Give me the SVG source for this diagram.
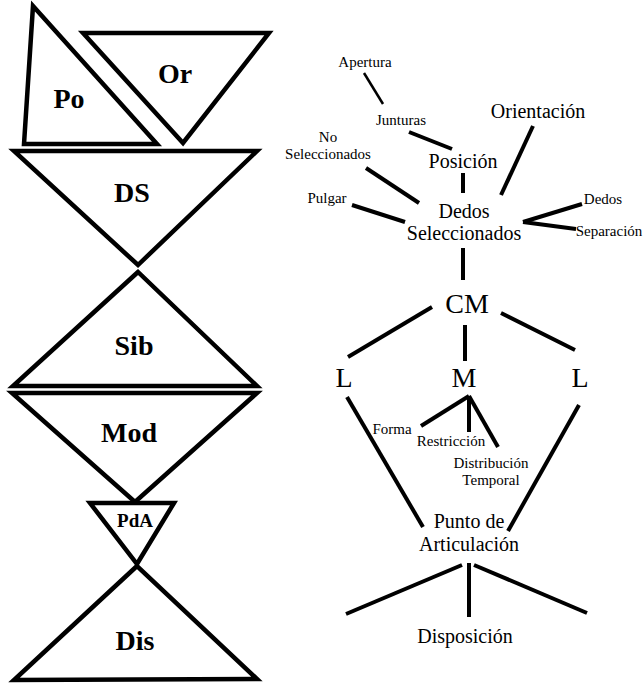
<svg xmlns="http://www.w3.org/2000/svg" width="644" height="687" viewBox="0 0 644 687" font-family="Liberation Serif, Times New Roman, Times, DejaVu Serif, Noto Serif, serif">
<style>
.tri{fill:none;stroke:#000;stroke-width:4.5;stroke-linejoin:miter;stroke-miterlimit:10}
text{text-anchor:middle;fill:#000}
.tl{font-weight:bold;font-size:28px}
.big{font-size:20px}
.huge{font-size:28px}
.sm{font-size:15px}
.ln{stroke:#000;stroke-width:4;stroke-linecap:butt;fill:none}
.thin{stroke:#000;stroke-width:2.5;fill:none}
</style>
<rect width="644" height="687" fill="#fff"/>
<g id="po"><polygon class="tri" points="33,6 24,144 157,144"/><text class="tl" x="69" y="108">Po</text></g>
<g id="or"><polygon class="tri" points="83,33 269,33 183,143"/><text class="tl" x="175" y="83">Or</text></g>
<g id="ds"><polygon class="tri" points="14,151 257,151 138,265"/><text class="tl" x="132" y="202">DS</text></g>
<g id="sib"><polygon class="tri" points="138,272 13,386 257,386"/><text class="tl" x="134" y="355">Sib</text></g>
<g id="mod"><polygon class="tri" points="12,393 257,393 135,502"/><text class="tl" x="129" y="442">Mod</text></g>
<g id="pda"><polygon class="tri" points="90,503 174,503 137,564"/><text class="tl" x="135" y="527" style="font-size:19px">PdA</text></g>
<g id="dis"><polygon class="tri" points="137,566 14,680 257,679"/><text class="tl" x="135" y="650">Dis</text></g>

<g id="connectors">
<line class="thin" x1="364" y1="73" x2="383" y2="104"/>
<line class="ln" x1="409" y1="132" x2="452" y2="149"/>
<line class="ln" x1="533" y1="126" x2="501" y2="195"/>
<line class="ln" x1="463" y1="173" x2="463" y2="193"/>
<line class="ln" x1="366" y1="168" x2="419" y2="203"/>
<line class="ln" x1="352" y1="205" x2="405" y2="222"/>
<line class="ln" x1="582" y1="204" x2="523" y2="222"/>
<line class="ln" x1="523" y1="222" x2="576" y2="229"/>
<line class="ln" x1="463" y1="248" x2="463" y2="280"/>
<line class="ln" x1="432" y1="307" x2="348" y2="357"/>
<line class="ln" x1="465" y1="325" x2="465" y2="361"/>
<line class="ln" x1="501" y1="313" x2="575" y2="350"/>
<line class="ln" x1="469" y1="396" x2="421" y2="426"/>
<line class="ln" x1="469" y1="396" x2="469" y2="432"/>
<line class="ln" x1="469" y1="396" x2="498" y2="447"/>
<line class="ln" x1="347" y1="397" x2="423" y2="527"/>
<line class="ln" x1="579" y1="405" x2="508" y2="531"/>
<line class="ln" x1="462" y1="565" x2="346" y2="614"/>
<line class="ln" x1="469" y1="563" x2="469" y2="617"/>
<line class="ln" x1="474" y1="565" x2="587" y2="613"/>
</g>

<g id="apertura"><text class="sm" x="365" y="67">Apertura</text></g>
<g id="junturas"><text class="sm" x="401" y="125">Junturas</text></g>
<g id="orientacion"><text class="big" x="538" y="118">Orientación</text></g>
<g id="noseleccionados"><text class="sm" x="328" y="142">No</text><text class="sm" x="328" y="159">Seleccionados</text></g>
<g id="posicion"><text class="big" x="463" y="168">Posición</text></g>
<g id="pulgar"><text class="sm" x="327" y="203">Pulgar</text></g>
<g id="dedossel"><text class="big" x="464" y="218">Dedos</text><text class="big" x="464" y="240">Seleccionados</text></g>
<g id="dedos"><text class="sm" x="603" y="204">Dedos</text></g>
<g id="separacion"><text class="sm" x="609" y="236">Separación</text></g>
<g id="cm"><text class="huge" x="467" y="313">CM</text></g>
<g id="l1"><text class="huge" x="344" y="387">L</text></g>
<g id="m"><text class="huge" x="464" y="387">M</text></g>
<g id="l2"><text class="huge" x="580" y="387">L</text></g>
<g id="forma"><text class="sm" x="392" y="434">Forma</text></g>
<g id="restriccion"><text class="sm" x="451" y="446">Restricción</text></g>
<g id="distribucion"><text class="sm" x="491" y="468">Distribución</text><text class="sm" x="491" y="485">Temporal</text></g>
<g id="punto"><text class="big" x="469" y="528">Punto de</text><text class="big" x="469" y="551">Articulación</text></g>
<g id="disposicion"><text class="big" x="465" y="643">Disposición</text></g>
</svg>
